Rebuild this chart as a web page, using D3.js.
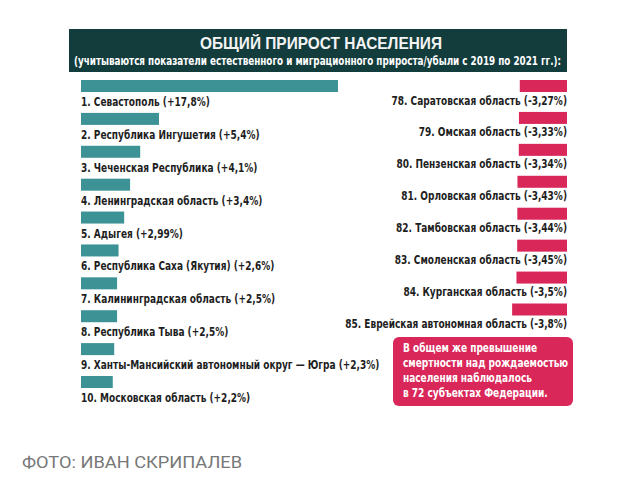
<!DOCTYPE html>
<html><head><meta charset="utf-8">
<script src="https://cdn.jsdelivr.net/npm/d3@7"></script>
<style>
html,body{margin:0;padding:0;background:#fff;}
svg{display:block;}
</style></head>
<body>
<script>
const title = "ОБЩИЙ ПРИРОСТ НАСЕЛЕНИЯ";
const subtitle = "(учитываются показатели естественного и миграционного прироста/убыли с 2019 по 2021 гг.):";
const topRanks = [1,2,3,4,5,6,7,8,9,10];
const topNames = ["Севастополь","Республика Ингушетия","Чеченская Республика","Ленинградская область","Адыгея","Республика Саха (Якутия)","Калининградская область","Республика Тыва","Ханты-Мансийский автономный округ — Югра","Московская область"];
const topValues = [17.8,5.4,4.1,3.4,2.99,2.6,2.5,2.5,2.3,2.2];
const bottomRanks = [78,79,80,81,82,83,84,85];
const bottomNames = ["Саратовская область","Омская область","Пензенская область","Орловская область","Тамбовская область","Смоленская область","Курганская область","Еврейская автономная область"];
const bottomValues = [-3.27,-3.33,-3.34,-3.43,-3.44,-3.45,-3.5,-3.8];
const noteLines = ["В общем же превышение","смертности над рождаемостью","населения наблюдалось","в 72 субъектах Федерации."];
const credit = "ФОТО: ИВАН СКРИПАЛЕВ";

const W=640,H=479;
const svg=d3.select("body").append("svg").attr("width",W).attr("height",H);
const cond = "'Liberation Sans Narrow','DejaVu Sans Condensed','Liberation Sans',Arial,sans-serif";
const SX = 0.77, FS = 13;

// header
svg.append("rect").attr("x",69).attr("y",29).attr("width",498).attr("height",43).attr("fill","#133d3d");
svg.append("text").attr("x",321).attr("y",48.5).attr("text-anchor","middle")
  .attr("font-family","'Liberation Sans',Arial,sans-serif").attr("font-weight","bold").attr("font-size",16.5)
  .attr("fill","#f4f4f4").attr("textLength",242).attr("lengthAdjust","spacingAndGlyphs").text(title);
const sub = svg.append("text").attr("text-anchor","middle")
  .attr("font-family",cond).attr("font-weight","bold").attr("font-size",11.5)
  .attr("fill","#fff").text(subtitle);
const subW = sub.node().getComputedTextLength();
const subSX = Math.min(1, 488 / subW);
sub.attr("transform",`translate(317.5,65) scale(${subSX},1)`);

const fmt = v => (v>0?"+":"") + String(v).replace(".",",") + "%";
const x = d3.scaleLinear().domain([0,17.8]).range([0,257]);

const topData = topRanks.map((r,i)=>({r,name:topNames[i],v:topValues[i]}));
const botData = bottomRanks.map((r,i)=>({r,name:bottomNames[i],v:bottomValues[i]}));

const yL = d3.scalePoint().domain(topRanks).range([80,376]);
const yR = d3.scalePoint().domain(bottomRanks).range([80,303.5]);
const x0 = 81, xR = 567, bh = 12;

svg.append("g").selectAll("rect").data(topData).join("rect")
  .attr("x",x0).attr("y",d=>yL(d.r)).attr("width",d=>x(d.v)).attr("height",bh).attr("fill","#3c9295");
svg.append("g").selectAll("text").data(topData).join("text")
  .attr("transform",d=>`translate(${x0},${yL(d.r)+26}) scale(${SX},1)`)
  .attr("font-family",cond).attr("font-weight","bold").attr("font-size",FS).attr("fill","#1e1e1e")
  .text(d=>`${d.r}. ${d.name} (${fmt(d.v)})`);

svg.append("g").selectAll("rect").data(botData).join("rect")
  .attr("x",d=>xR - x(-d.v)).attr("y",d=>yR(d.r)).attr("width",d=>x(-d.v)).attr("height",bh).attr("fill","#d9275a");
svg.append("g").selectAll("text").data(botData).join("text")
  .attr("transform",d=>`translate(${xR},${yR(d.r)+24.5}) scale(${SX},1)`)
  .attr("text-anchor","end")
  .attr("font-family",cond).attr("font-weight","bold").attr("font-size",FS).attr("fill","#1e1e1e")
  .text(d=>`${d.r}. ${d.name} (${fmt(d.v)})`);

// note box
svg.append("rect").attr("x",393).attr("y",337).attr("width",180).attr("height",69).attr("rx",6).attr("fill","#d9275a");
svg.append("g").selectAll("text").data(noteLines).join("text")
  .attr("transform",(d,i)=>`translate(403,${352+i*15}) scale(${SX},1)`)
  .attr("font-family",cond).attr("font-weight","bold").attr("font-size",FS).attr("fill","#fff")
  .text(d=>d);

svg.append("text").attr("x",22).attr("y",468).attr("font-family","Roboto,'Liberation Sans',sans-serif")
  .attr("font-size",16).attr("fill","#777").attr("textLength",220).attr("lengthAdjust","spacingAndGlyphs").text(credit);
</script>
</body></html>
